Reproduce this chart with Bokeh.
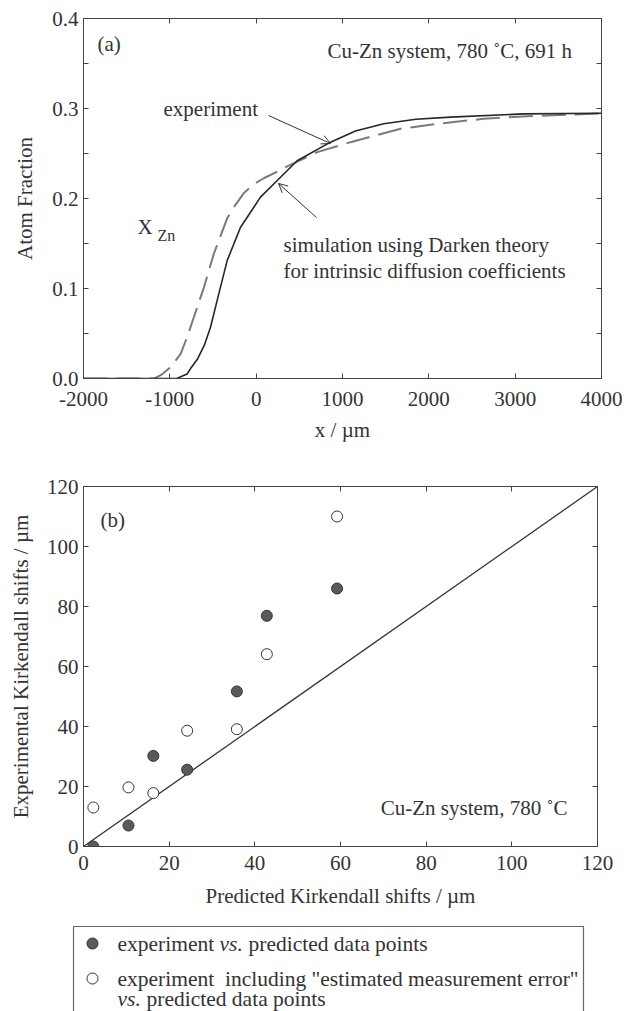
from bokeh.plotting import figure
from bokeh.models import (Range1d, LinearAxis, FixedTicker, Label, Arrow, OpenHead,
                          CustomJSTickFormatter)
from bokeh.embed import file_html
from bokeh.resources import INLINE
from bokeh.core.properties import value

FONT = "Liberation Serif"
TXT = "#333333"
AX = "#444444"
FS = "21px"
FSL = "21.5px"

# ---------------- data: panel (a) ----------------
sim_x = [-2000, -920, -800, -760, -683, -600, -529, -433, -336, -181, 50, 244, 475, 861,
         1150, 1478, 1850, 2251, 3097, 4000]
sim_y = [0.0, 0.0, 0.005, 0.011, 0.021, 0.037, 0.057, 0.094, 0.131, 0.168, 0.2015, 0.22,
         0.242, 0.2626, 0.275, 0.283, 0.288, 0.2904, 0.294, 0.2948]
exp_x = [-2000, -1180, -1100, -1000, -876, -800, -722, -606, -491, -336, -240, -143, -19,
         88, 247, 320, 707, 1093, 1672, 2097, 2633, 3143, 3676, 4000]
exp_y = [0.0, 0.0, 0.004, 0.012, 0.027, 0.046, 0.068, 0.101, 0.1385, 0.178, 0.193, 0.206,
         0.2165, 0.2225, 0.230, 0.234, 0.2515, 0.2626, 0.2774, 0.283, 0.2885, 0.2915,
         0.2933, 0.2945]
xticks_a = [-2000, -1000, 0, 1000, 2000, 3000, 4000]
yticks_a = [0.0, 0.1, 0.2, 0.3, 0.4]
yminor_a = [0.05, 0.15, 0.25, 0.35]

# ---------------- data: panel (b) ----------------
predicted = [2.3, 10.5, 16.3, 24.2, 35.8, 42.8, 59.2]
exp_filled = [0.0, 7.0, 30.2, 25.6, 51.7, 76.9, 86.0]
exp_open = [13.0, 19.7, 17.8, 38.6, 39.1, 64.1, 110.0]
ticks_b = [0, 20, 40, 60, 80, 100, 120]
diag = [0, 120]


def style_axis(ax, ticks, minor=None, labels=True, fmt=None, standoff=5, lab_standoff=10):
    ax.ticker = FixedTicker(ticks=ticks, minor_ticks=minor or [])
    ax.major_tick_in = 5
    ax.major_tick_out = 0
    ax.minor_tick_in = 5 if minor else 0
    ax.minor_tick_out = 0
    ax.axis_line_color = AX
    ax.major_tick_line_color = AX
    ax.minor_tick_line_color = AX
    ax.major_label_text_font = FONT
    ax.major_label_text_font_size = FS
    ax.major_label_text_color = TXT
    ax.major_label_standoff = standoff
    ax.axis_label_text_font = FONT
    ax.axis_label_text_font_style = "normal"
    ax.axis_label_text_font_size = FS
    ax.axis_label_text_color = TXT
    ax.axis_label_standoff = lab_standoff
    if fmt is not None:
        ax.formatter = fmt
    if not labels:
        ax.major_label_text_font_size = "1px"
        ax.major_label_text_color = None
        ax.major_label_standoff = 0


def lab(p, x, y, text, size=FS, baseline="middle", align="left", style="normal"):
    p.add_layout(Label(x=x, y=y, text=text, text_font=FONT, text_font_size=size,
                       text_color=TXT, text_baseline=baseline, text_align=align,
                       text_font_style=style))


# ================= panel (a) =================
pa = figure(width=634, height=460, output_backend="svg", toolbar_location=None,
            x_range=Range1d(-2000, 4000), y_range=Range1d(0, 0.4),
            min_border_left=83, min_border_right=33, min_border_top=18,
            min_border_bottom=82, x_axis_label="x / µm", y_axis_label="Atom Fraction")
pa.grid.visible = False
pa.outline_line_color = AX
style_axis(pa.xaxis[0], xticks_a, fmt=CustomJSTickFormatter(code="return tick.toFixed(0)"),
           standoff=13, lab_standoff=9)
style_axis(pa.yaxis[0], yticks_a, minor=yminor_a,
           fmt=CustomJSTickFormatter(code="return tick.toFixed(1)"), standoff=5, lab_standoff=12)
top_a = LinearAxis()
style_axis(top_a, xticks_a, labels=False)
pa.add_layout(top_a, "above")
right_a = LinearAxis()
style_axis(right_a, yticks_a, minor=yminor_a, labels=False)
pa.add_layout(right_a, "right")

pa.line(exp_x, exp_y, line_color="#7a7a7a", line_width=2, line_dash="24 9")
pa.line(sim_x, sim_y, line_color="#262626", line_width=1.6)

lab(pa, -1838, 0.3722, "(a)")
lab(pa, 826, 0.3644, "Cu-Zn system, 780 ˚C, 691 h")
lab(pa, -1073, 0.300, "experiment")
lab(pa, -1375, 0.1678, "X")
lab(pa, -1143, 0.159, "Zn", size="16px")
lab(pa, 317, 0.1478, "simulation using Darken theory")
lab(pa, 317, 0.1200, "for intrinsic diffusion coefficients")

pa.add_layout(Arrow(end=OpenHead(size=9, line_color="#333333", line_width=1),
                    x_start=143, y_start=0.2922, x_end=861, y_end=0.2611,
                    line_color="#333333", line_width=1))
pa.add_layout(Arrow(end=OpenHead(size=9, line_color="#333333", line_width=1),
                    x_start=699, y_start=0.1789, x_end=259, y_end=0.2167,
                    line_color="#333333", line_width=1))

# ================= panel (b) =================
pb = figure(width=634, height=455, output_backend="svg", toolbar_location=None,
            x_range=Range1d(0, 120), y_range=Range1d(0, 120),
            min_border_left=83, min_border_right=37, min_border_top=26,
            min_border_bottom=69, x_axis_label="Predicted Kirkendall shifts / µm",
            y_axis_label="Experimental Kirkendall shifts / µm")
pb.grid.visible = False
pb.outline_line_color = AX
style_axis(pb.xaxis[0], ticks_b, standoff=9, lab_standoff=11)
style_axis(pb.yaxis[0], ticks_b, standoff=5, lab_standoff=11)
top_b = LinearAxis()
style_axis(top_b, ticks_b, labels=False)
pb.add_layout(top_b, "above")
right_b = LinearAxis()
style_axis(right_b, ticks_b, labels=False)
pb.add_layout(right_b, "right")

pb.line(diag, diag, line_color="#333333", line_width=1.3)
pb.scatter(predicted, exp_open, size=11, marker="circle", fill_color="white",
           line_color="#333333", line_width=1)
pb.scatter(predicted, exp_filled, size=11, marker="circle", fill_color="#5a5a5a",
           line_color="#333333", line_width=1)

lab(pb, 3.97, 108.7, "(b)")
lab(pb, 69.4, 12.67, "Cu-Zn system, 780 ˚C")

# ================= legend =================
pl = figure(width=634, height=96, output_backend="svg", toolbar_location=None,
            x_range=Range1d(0, 634), y_range=Range1d(96, 0),
            x_axis_type=None, y_axis_type=None,
            min_border_left=0, min_border_right=0, min_border_top=0, min_border_bottom=0)
pl.grid.visible = False
pl.outline_line_color = None
pl.line([73, 73, 583, 583], [96, 11, 11, 96], line_color="#666666", line_width=1.2)
pl.scatter([92], [28], size=11, marker="circle", fill_color="#5a5a5a",
           line_color="#333333", line_width=1)
pl.scatter([92], [63], size=11, marker="circle", fill_color="white",
           line_color="#333333", line_width=1)
tf = value(FONT)
pl.text([117, 248], [28, 28], text=["experiment", "predicted data points"], text_font=tf,
        text_font_size=FSL, text_color=TXT, text_baseline="middle")
pl.text([219], [28], text=["vs."], text_font=tf, text_font_style="italic",
        text_font_size=FSL, text_color=TXT, text_baseline="middle")
pl.text([117], [63], text=['experiment \u00a0including "estimated measurement error"'],
        text_font=tf, text_font_size=FSL, text_color=TXT, text_baseline="middle")
pl.text([117], [83], text=["vs."], text_font=tf, text_font_style="italic",
        text_font_size=FSL, text_color=TXT, text_baseline="middle")
pl.text([146], [83], text=["predicted data points"], text_font=tf,
        text_font_size=FSL, text_color=TXT, text_baseline="middle")

open("out.html", "w").write(file_html([pa, pb, pl], INLINE))
